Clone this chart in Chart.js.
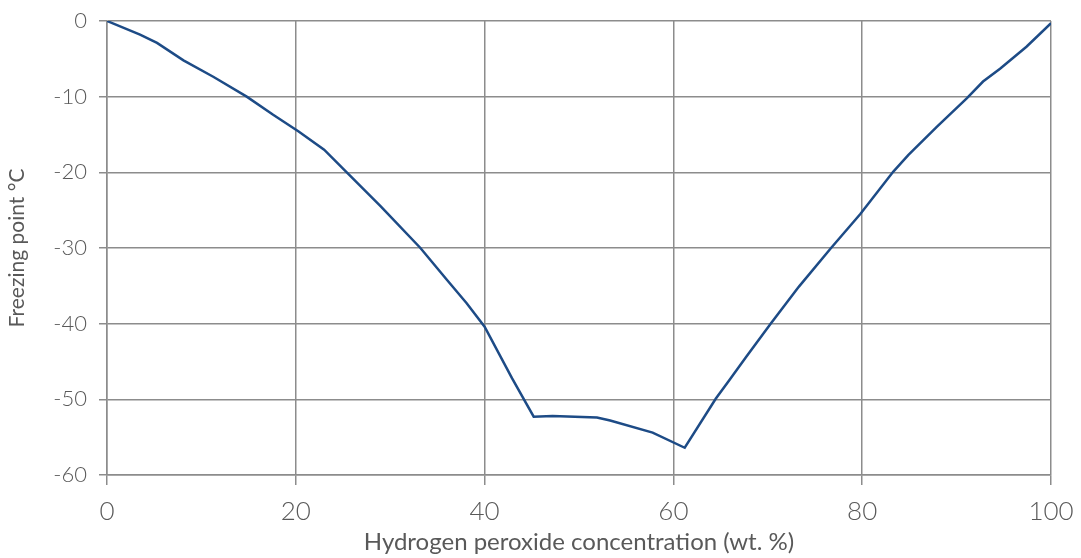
<!DOCTYPE html>
<html><head><meta charset="utf-8">
<script src="https://cdn.jsdelivr.net/npm/chart.js@4"></script>
<style>html,body{margin:0;padding:0;background:#fff}#wrap{width:1081px;height:558px}</style>
</head><body><div id="wrap"><canvas id="c" width="1081" height="558"></canvas></div>
<script>
const concentration = [0,3.5,5.3,8.1,11.3,14.8,17.6,20.3,23,25.4,29,33.2,36,38.1,40,42.9,45.2,47.2,51.9,53.3,57.8,61.2,64.5,65.9,67.7,70.3,73.3,76.7,79.8,83.3,84.9,87.9,91.1,92.8,94.6,97.4,100];
const freezingPoint = [0,-1.8,-2.9,-5.2,-7.4,-10,-12.4,-14.6,-17,-20,-24.5,-30,-34.2,-37.3,-40.4,-47.2,-52.3,-52.2,-52.4,-52.8,-54.4,-56.4,-49.9,-47.5,-44.4,-40,-35.1,-30,-25.5,-19.9,-17.7,-14,-10.2,-8.0,-6.3,-3.4,-0.3];
const xTitle = 'Hydrogen peroxide concentration (wt. %)';
const yTitle = 'Freezing point °C';

const pts = concentration.map((x,i)=>({x, y: freezingPoint[i]}));
const gridCol = '#8c8c8c';
const txt = '#595959';
new Chart(document.getElementById('c'), {
  type: 'scatter',
  data: { datasets: [{ data: pts, showLine: true, borderColor: '#1d4b86', borderWidth: 2.5, pointRadius: 0, tension: 0, fill: false }] },
  options: {
    responsive: false, animation: false,
    layout: { padding: { top: 21, right: 30, left: 5, bottom: 0 } },
    plugins: { legend: { display: false }, tooltip: { enabled: false } },
    scales: {
      x: { type: 'linear', min: 0, max: 100,
        afterFit: s => { s.height = 83; s.paddingLeft = 0; s.paddingRight = 0; },
        ticks: { stepSize: 20, color: txt, font: { family: 'Lato', size: 26, weight: 300 }, padding: 11, maxRotation: 0 },
        grid: { color: gridCol, lineWidth: 1.5, tickLength: 10 },
        border: { color: gridCol, width: 1.5 },
        title: { display: true, text: xTitle, color: txt, font: { family: 'Lato', size: 24 }, padding: { top: 0, bottom: 1 } } },
      y: { min: -60, max: 0,
        afterFit: s => { s.width = 102; s.paddingTop = 0; s.paddingBottom = 0; },
        ticks: { stepSize: 10, color: txt, font: { family: 'Lato', size: 22, weight: 300 }, padding: 12 },
        grid: { color: gridCol, lineWidth: 1.5, tickLength: 8 },
        border: { color: gridCol, width: 1.5 },
        title: { display: true, text: yTitle, color: txt, font: { family: 'Lato', size: 21 }, padding: { top: 0, bottom: 0 } } }
    }
  }
});
</script></body></html>
